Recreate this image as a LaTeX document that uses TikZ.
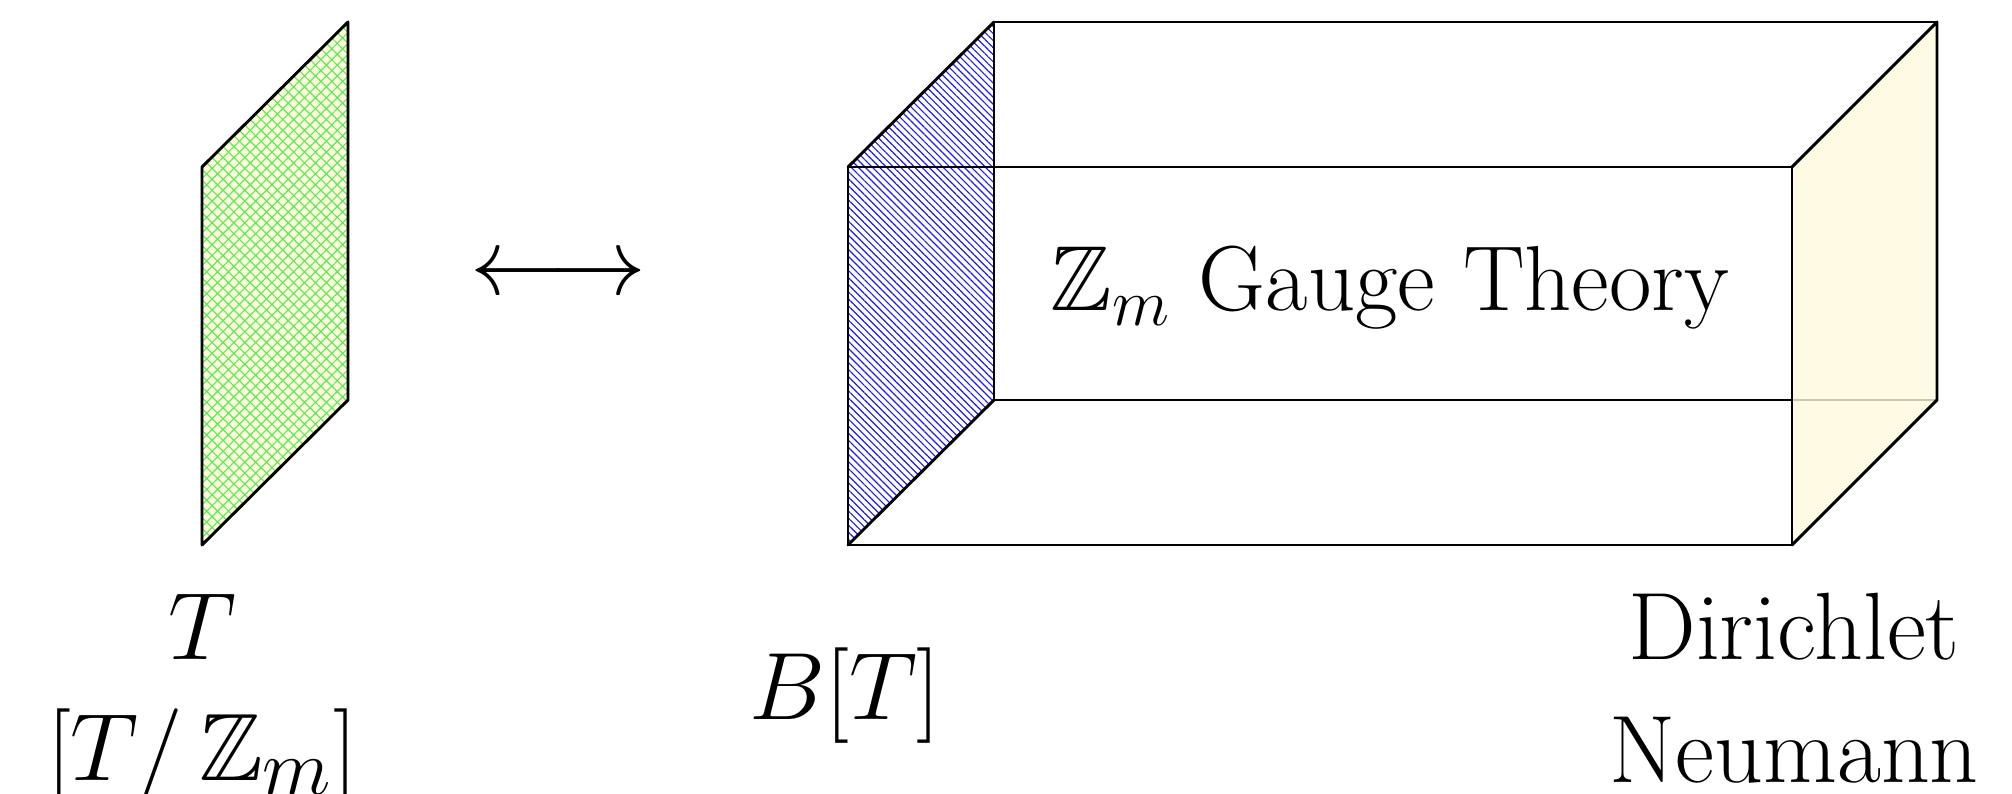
\documentclass[tikz,border=0pt]{standalone}
\usepackage{amssymb}
\usetikzlibrary{patterns,patterns.meta}
\definecolor{paleyellow}{RGB}{255,249,220}
\definecolor{hatchblue}{RGB}{25,25,245}
\definecolor{hatchgreen}{RGB}{90,235,90}
\begin{document}
\begin{tikzpicture}[x=0.26pt,y=-0.26pt,
  edge/.style={line width=0.75pt, line join=round, line cap=round},
  lbl/.style={font=\Huge, inner sep=0pt, anchor=base}]
\useasboundingbox (0,0) rectangle (2012,794);
% left sheet
\coordinate (ga) at (202,167);
\coordinate (gb) at (348,22);
\coordinate (gc) at (348,400);
\coordinate (gd) at (202,545);
% box front
\coordinate (f1) at (848,167);
\coordinate (f2) at (1792,167);
\coordinate (f3) at (1792,545);
\coordinate (f4) at (848,545);
% box back
\coordinate (b1) at (994,22);
\coordinate (b2) at (1937,22);
\coordinate (b3) at (1937,400);
\coordinate (b4) at (994,400);

% green sheet
\fill[paleyellow] (ga) -- (gb) -- (gc) -- (gd) -- cycle;
\fill[pattern={Hatch[angle=45,distance=2pt,line width=0.3pt]}, pattern color=hatchgreen] (ga) -- (gb) -- (gc) -- (gd) -- cycle;
\draw[edge] (ga) -- (gb) -- (gc) -- (gd) -- cycle;

% blue hatched left face
\fill[pattern={Lines[angle=-45,distance=1.3pt,line width=0.3pt]}, pattern color=hatchblue] (f1) -- (b1) -- (b4) -- (f4) -- cycle;

% back rectangle and connecting edges
\draw[edge] (b1) -- (b2) -- (b3) -- (b4) -- cycle;
\draw[edge] (f1) -- (b1);
\draw[edge] (f4) -- (b4);

% right face (translucent pale yellow)
\fill[paleyellow, fill opacity=0.8] (f2) -- (b2) -- (b3) -- (f3) -- cycle;
\draw[edge] (f2) -- (b2) -- (b3) -- (f3);

% front rectangle
\draw[edge] (f1) -- (f2) -- (f3) -- (f4) -- cycle;

% labels
\node[lbl, font=\fontsize{24}{29}\selectfont] (gauge) at (1390,311) {$\mathbb{Z}_m$ Gauge Theory};
\node[font=\Huge, inner sep=0pt] (arrow) at (558,277) {$\longleftrightarrow$};
\node[lbl] (tlabel) at (202,660) {$T$};
\node[lbl] (tzlabel) at (202,780) {$[T/\,\mathbb{Z}_m]$};
\node[lbl] (blabel) at (845,720) {$B[T]$};
\node[lbl] (dir) at (1794,660) {Dirichlet};
\node[lbl] (neu) at (1794,782) {Neumann};
\end{tikzpicture}
\end{document}
